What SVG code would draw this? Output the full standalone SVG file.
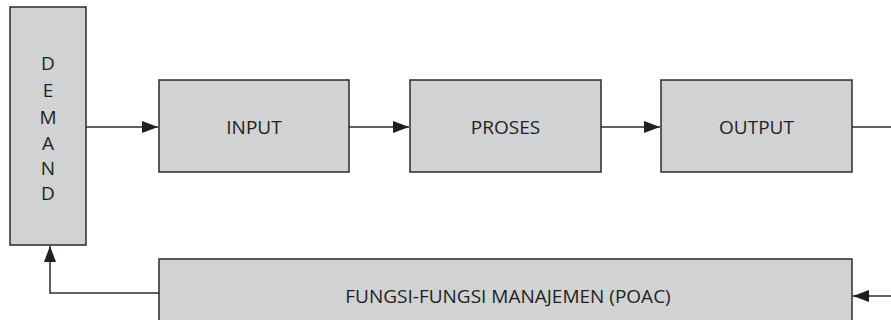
<svg xmlns="http://www.w3.org/2000/svg" width="891" height="320" viewBox="0 0 891 320">
  <style>
    .box { fill: #d1d2d4; stroke: #2b2b2b; stroke-width: 1.5; }
    .lbl { font-family: "Open Sans", "Liberation Sans", sans-serif; font-size: 19px; fill: #231f20; text-anchor: middle; }
    .wire { fill: none; stroke: #2b2b2b; stroke-width: 1.5; }
  </style>
  <defs>
    <marker id="arrow" viewBox="0 0 16 12" refX="16" refY="6" markerWidth="16" markerHeight="12" markerUnits="userSpaceOnUse" orient="auto">
      <path d="M0,0 L16,6 L0,12 z" fill="#231f20"/>
    </marker>
  </defs>
  <rect width="891" height="320" fill="#ffffff"/>

  <g id="demand">
    <rect class="box" x="10" y="7" width="76" height="238"/>
    <text class="lbl" x="48" y="70">D</text>
    <text class="lbl" x="48" y="97">E</text>
    <text class="lbl" x="48" y="124">M</text>
    <text class="lbl" x="48" y="150">A</text>
    <text class="lbl" x="48" y="175">N</text>
    <text class="lbl" x="48" y="200">D</text>
  </g>

  <g id="input">
    <rect class="box" x="159" y="80" width="190" height="92"/>
    <text class="lbl" x="254" y="134">INPUT</text>
  </g>

  <g id="proses">
    <rect class="box" x="410" y="80" width="191" height="92"/>
    <text class="lbl" x="505.5" y="134">PROSES</text>
  </g>

  <g id="output">
    <rect class="box" x="661" y="80" width="191" height="92"/>
    <text class="lbl" x="756.5" y="134">OUTPUT</text>
  </g>

  <g id="manajemen">
    <rect class="box" x="159" y="259" width="693" height="70"/>
    <text class="lbl" x="508" y="303">FUNGSI-FUNGSI MANAJEMEN (POAC)</text>
  </g>

  <g id="connectors">
    <path class="wire" d="M86,127 H158" marker-end="url(#arrow)"/>
    <path class="wire" d="M349,127 H409" marker-end="url(#arrow)"/>
    <path class="wire" d="M601,127 H660" marker-end="url(#arrow)"/>
    <path class="wire" d="M852,127 H895"/>
    <path class="wire" d="M895,296 H853" marker-end="url(#arrow)"/>
    <path class="wire" d="M159,293 H50 V246" marker-end="url(#arrow)"/>
  </g>
</svg>
